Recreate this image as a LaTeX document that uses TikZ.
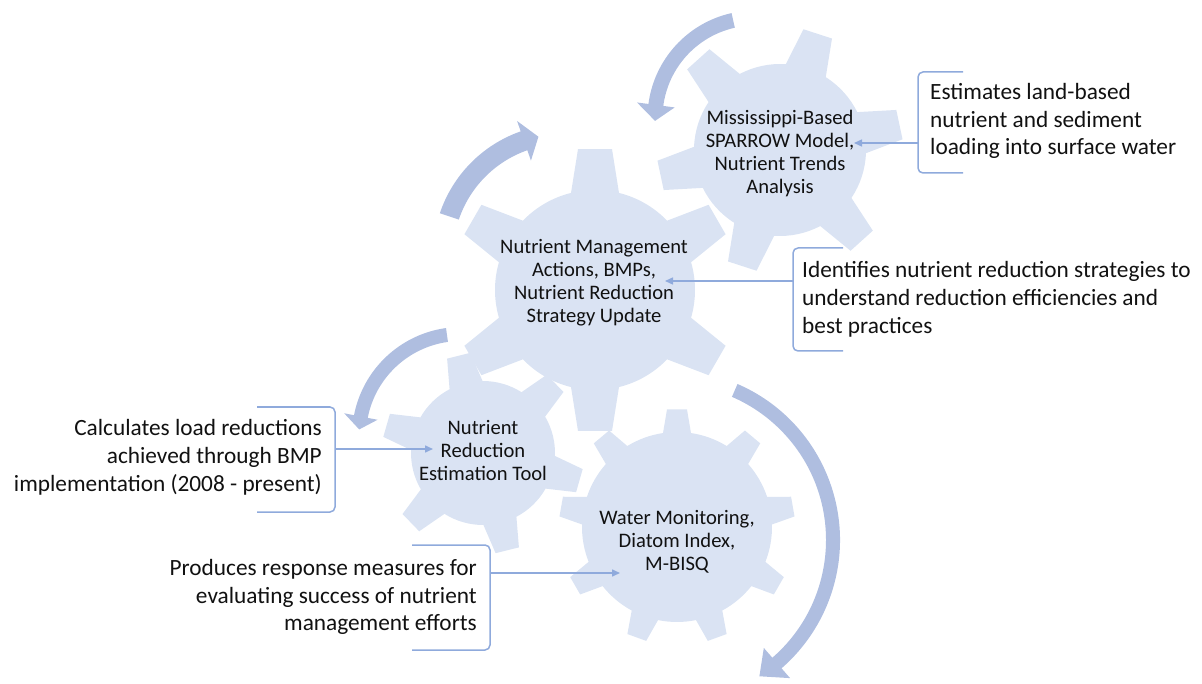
\documentclass[tikz,border=0pt]{standalone}
\usepackage{fontspec}
\setmainfont{Carlito}
\usetikzlibrary{arrows.meta}

\definecolor{gearfill}{HTML}{DAE3F3}
\definecolor{arrowfill}{HTML}{AFBEE0}
\definecolor{linkblue}{HTML}{8FAADC}
\definecolor{inktext}{HTML}{111111}

% gear: centre x, centre y, tip radius, body radius, teeth, first tooth angle,
%       half width of tooth tip, half width of tooth base
\newcommand{\drawgear}[8]{%
  \pgfmathsetmacro{\gstep}{360/#5}%
  \pgfmathsetmacro{\gdt}{asin(#7/#3)}%
  \pgfmathsetmacro{\gdb}{asin(#8/#4)}%
  \pgfmathtruncatemacro{\glast}{#5-1}%
  \fill[gearfill,shift={(#1,#2)}] ({#6-\gdb}:#4)
    \foreach \k in {0,...,\glast} {
      -- ({#6+\k*\gstep-\gdb}:#4) -- ({#6+\k*\gstep-\gdt}:#3)
      -- ({#6+\k*\gstep+\gdt}:#3) -- ({#6+\k*\gstep+\gdb}:#4)
      arc[start angle={#6+\k*\gstep+\gdb}, end angle={#6+(\k+1)*\gstep-\gdb}, radius=#4]
    } -- cycle;%
}

% curved block arrow: centre x, centre y, mid radius, half band, tail angle,
%                     head angle, half head width, head length
\newcommand{\bendarrow}[8]{%
  \pgfmathsetmacro{\bsign}{(#6>#5)?1:-1}%
  \pgfmathsetmacro{\btip}{#6+\bsign*#8/#3*57.2958}%
  \pgfmathsetmacro{\bro}{#3+#4}%
  \pgfmathsetmacro{\bri}{#3-#4}%
  \pgfmathsetmacro{\bho}{#3+#7}%
  \pgfmathsetmacro{\bhi}{#3-#7}%
  \fill[arrowfill,shift={(#1,#2)}] (#5:\bro)
    arc[start angle=#5, end angle=#6, radius=\bro]
    -- (#6:\bho) -- (\btip:#3) -- (#6:\bhi) -- (#6:\bri)
    arc[start angle=#6, end angle=#5, radius=\bri] -- cycle;%
}

\begin{document}
\begin{tikzpicture}[x=1pt,y=-1pt,
  geartext/.style={align=center, text=inktext, inner sep=0pt,
    font=\fontsize{20.6}{23}\selectfont},
  sidetext/.style={text=inktext, inner sep=0pt,
    font=\fontsize{23.3}{27.8}\selectfont},
  bracket/.style={draw=linkblue, line width=1.5pt, rounded corners=5pt},
  conn/.style={draw=linkblue, line width=1.5pt,
    -{Triangle[length=8pt,width=7pt]}},
]
\useasboundingbox (0,0) rectangle (1202,684);

% the four gears
\drawgear{780}{150}{123}{86}{6}{-12}{15}{21}
\drawgear{595}{290}{142}{100}{6}{-90}{17}{24}
\drawgear{483}{453}{101}{72}{6}{-104}{12}{17}
\drawgear{677}{527}{118}{95}{9}{-90}{10}{14}

% the turning arrows
\bendarrow{755}{118}{100}{7.5}{-102.6}{-172.5}{19}{16}
\bendarrow{564}{255}{121}{10}{-161.4}{-109.3}{21}{15}
\bendarrow{461}{436}{102}{7}{-97.9}{-169}{17}{13}
\bendarrow{670}{540}{163}{7}{-66.6}{49}{20}{22}

% gear labels
\node[geartext] (g1t) at (780,154) {Mississippi-Based\\SPARROW Model,\\Nutrient Trends\\Analysis};
\node[geartext] (g2t) at (594,283) {Nutrient Management\\Actions, BMPs,\\Nutrient Reduction\\Strategy Update};
\node[geartext] (g3t) at (483,450) {Nutrient\\Reduction\\Estimation Tool};
\node[geartext] (g4t) at (677,542) {Water Monitoring,\\Diatom Index,\\M-BISQ};

% descriptions
\node[sidetext, align=left, anchor=west] (d1) at (930,121)
  {Estimates land-based\\nutrient and sediment\\loading into surface water};
\node[sidetext, align=left, anchor=west] (d2) at (802,299)
  {Identifies nutrient reduction strategies to\\understand reduction efficiencies and\\best practices};
\node[sidetext, align=right, anchor=east] (d3) at (322,457)
  {Calculates load reductions\\achieved through BMP\\implementation (2008 - present)};
\node[sidetext, align=right, anchor=east] (d4) at (477,597)
  {Produces response measures for\\evaluating success of nutrient\\management efforts};

% brackets round the descriptions
\draw[bracket] (963,72) -- (918,72) -- (918,173) -- (963,173);
\draw[bracket] (843,248) -- (793,248) -- (793,351) -- (843,351);
\draw[bracket] (257,407) -- (335,407) -- (335,512) -- (257,512);
\draw[bracket] (412,545) -- (490,545) -- (490,650) -- (412,650);

% links from the brackets to the gears
\coordinate (c1a) at (918,143);
\coordinate (c1b) at (854,143);
\coordinate (c2a) at (793,281);
\coordinate (c2b) at (665,281);
\coordinate (c3a) at (335,449);
\coordinate (c3b) at (433,449);
\coordinate (c4a) at (490,573);
\coordinate (c4b) at (620,573);
\draw[conn] (c1a) -- (c1b);
\draw[conn] (c2a) -- (c2b);
\draw[conn] (c3a) -- (c3b);
\draw[conn] (c4a) -- (c4b);
\end{tikzpicture}
\end{document}
